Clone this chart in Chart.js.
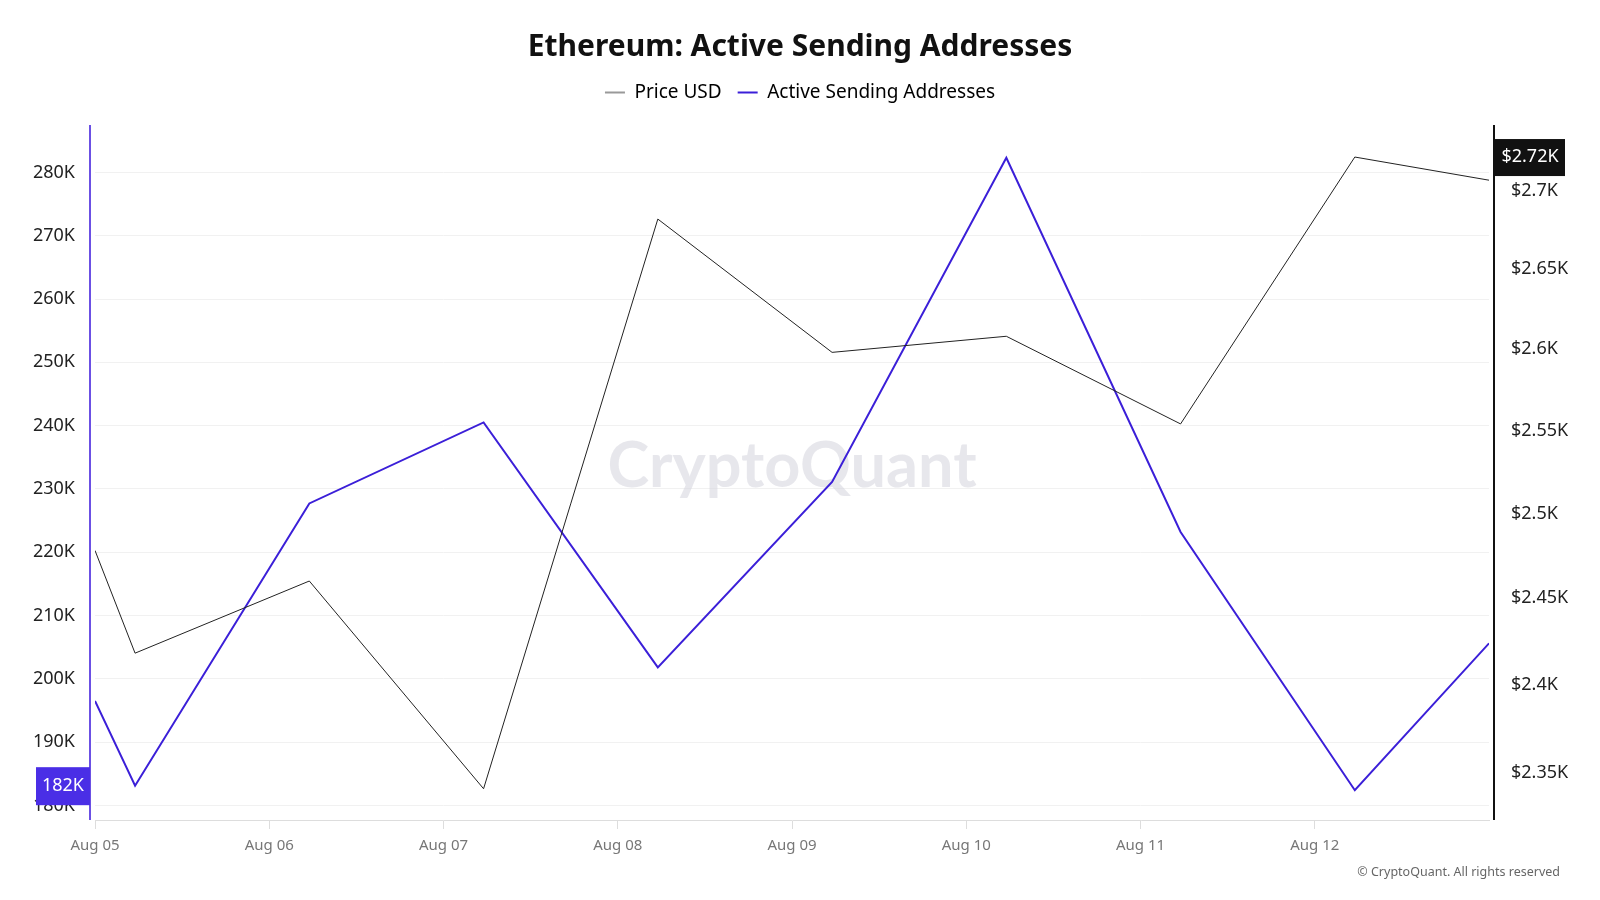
<!DOCTYPE html>
<html>
<head>
<meta charset="utf-8">
<title>Ethereum: Active Sending Addresses</title>
<script src="https://cdn.jsdelivr.net/npm/chart.js@4.4.1/dist/chart.umd.min.js"></script>
<style>
	body { margin: 0; background: #ffffff; }
	#wrap { width: 1600px; height: 900px; }
</style>
</head>
<body>
<div id="wrap"><canvas id="lineChart"></canvas></div>
<script>
///
///	Data (x = days after Aug 05 00:00)
///
var dayOffsets = [0, 0.23, 1.23, 2.23, 3.23, 4.23, 5.23, 6.23, 7.23, 8];
var activeSending = [196500, 183100, 227700, 240500, 201800, 231100, 282300, 223200, 182400, 205600];
var priceUsd = [2478, 2418, 2460, 2341, 2682, 2598, 2608, 2554, 2722, 2707];
var dayLabels = ["Aug 05", "Aug 06", "Aug 07", "Aug 08", "Aug 09", "Aug 10", "Aug 11", "Aug 12"];
var addressTicks = [180000, 190000, 200000, 210000, 220000, 230000, 240000, 250000, 260000, 270000, 280000];
var priceTicks = [2350, 2400, 2450, 2500, 2550, 2600, 2650, 2700];
var markerIndex = 8;	// the day whose values are flagged on both axes

var blue = "#3b1fd8";
var fontFamily = "'Noto Sans', 'Open Sans', sans-serif";

function points(values) {
	return values.map(function(v, i) { return { x: dayOffsets[i], y: v }; });
}

// Give the legend some room below it
const legendMargin = {
	id: 'legendMargin',
	beforeInit(chart) {
		const origFit = chart.legend.fit;
		chart.legend.fit = function fit() {
			origFit.bind(chart.legend)();
			this.height += 13;
		};
	}
};

// Watermark, axis lines, value flags, footer
const extras = {
	id: 'extras',
	beforeDatasetsDraw(chart) {
		const ctx = chart.ctx, a = chart.chartArea;
		ctx.save();
		ctx.font = "bold 63px Lato, sans-serif";
		ctx.fillStyle = "rgba(212,212,220,0.55)";
		ctx.textAlign = "center";
		ctx.textBaseline = "middle";
		ctx.fillText("CryptoQuant", (a.left + a.right) / 2, (a.top + a.bottom) / 2 - 6);
		ctx.restore();
	},
	afterDraw(chart) {
		const ctx = chart.ctx, a = chart.chartArea;
		const yl = chart.scales.y, yr = chart.scales.y1;
		ctx.save();

		// axis lines
		ctx.lineWidth = 2;
		ctx.strokeStyle = "#6b50e4";
		ctx.beginPath();
		ctx.moveTo(a.left - 5, a.top);
		ctx.lineTo(a.left - 5, a.bottom);
		ctx.stroke();
		ctx.strokeStyle = "#111111";
		ctx.beginPath();
		ctx.moveTo(a.right + 5, a.top);
		ctx.lineTo(a.right + 5, a.bottom);
		ctx.stroke();

		// value flags
		ctx.font = "18px " + fontFamily;
		ctx.textBaseline = "middle";
		ctx.textAlign = "center";
		var ly = yl.getPixelForValue(activeSending[markerIndex]) - 4;
		ctx.fillStyle = "#4a2ee6";
		ctx.fillRect(36, ly - 19, a.left - 5 - 36, 38);
		ctx.fillStyle = "#ffffff";
		ctx.fillText(Math.round(activeSending[markerIndex] / 1000) + "K", (36 + a.left - 5) / 2, ly);

		var ry = yr.getPixelForValue(priceUsd[markerIndex]);
		ctx.fillStyle = "#111111";
		ctx.fillRect(a.right + 6, ry - 18, 70, 37);
		ctx.fillStyle = "#ffffff";
		ctx.fillText("$" + (Math.round(priceUsd[markerIndex] / 10) / 100) + "K", a.right + 6 + 35, ry);

		// footer
		ctx.font = "12.5px " + fontFamily;
		ctx.fillStyle = "#666666";
		ctx.textAlign = "right";
		ctx.fillText("\u00A9 CryptoQuant. All rights reserved", 1560, 872);
		ctx.restore();
	}
};

new Chart(document.getElementById("lineChart"), {
	type: "line",
	data: {
		datasets: [{
			label: "Price USD",
			data: points(priceUsd),
			yAxisID: "y1",
			borderColor: "#222222",
			borderWidth: 1,
			pointRadius: 0,
			tension: 0
		},
		{
			label: "Active Sending Addresses",
			data: points(activeSending),
			yAxisID: "y",
			borderColor: blue,
			borderWidth: 2,
			pointRadius: 0,
			tension: 0
		}]
	},
	options: {
		responsive: true,
		maintainAspectRatio: false,
		animation: false,
		layout: { padding: 0 },
		plugins: {
			title: {
				display: true,
				text: "Ethereum: Active Sending Addresses",
				color: "#111111",
				font: { family: fontFamily, size: 30, weight: "bold" },
				padding: { top: 29, bottom: 2 }
			},
			legend: {
				display: true,
				labels: {
					color: "#333333",
					font: { family: fontFamily, size: 19 },
					usePointStyle: true,
					pointStyleWidth: 20,
					padding: 16,
					generateLabels: function() {
						return [
							{ text: "Price USD", strokeStyle: "#999999", fillStyle: "#999999", lineWidth: 2, pointStyle: "line", datasetIndex: 0 },
							{ text: "Active Sending Addresses", strokeStyle: blue, fillStyle: blue, lineWidth: 2, pointStyle: "line", datasetIndex: 1 }
						];
					}
				}
			},
			tooltip: { enabled: false }
		},
		scales: {
			x: {
				type: "linear",
				min: 0,
				max: 8,
				afterBuildTicks: function(scale) {
					scale.ticks = dayLabels.map(function(l, i) { return { value: i }; });
				},
				afterFit: function(scale) { scale.height = 80; },
				ticks: {
					color: "#777777",
					font: { family: fontFamily, size: 15 },
					padding: 8,
					maxRotation: 0,
					callback: function(v) { return dayLabels[v]; }
				},
				grid: { drawOnChartArea: false, drawTicks: true, tickLength: 9, color: "#dddddd" },
				border: { color: "#dddddd", width: 1 }
			},
			y: {
				position: "left",
				min: 177690,
				max: 287490,
				afterBuildTicks: function(scale) {
					scale.ticks = addressTicks.map(function(v) { return { value: v }; });
				},
				afterFit: function(scale) { scale.width = 95; },
				ticks: {
					color: "#222222",
					font: { family: fontFamily, size: 18 },
					padding: 20,
					callback: function(v) { return (v / 1000) + "K"; }
				},
				grid: { color: "#f1f1f1", drawTicks: false },
				border: { display: false }
			},
			y1: {
				type: "logarithmic",
				position: "right",
				min: 2323.6,
				max: 2742.9,
				afterBuildTicks: function(scale) {
					scale.ticks = priceTicks.map(function(v) { return { value: v }; });
				},
				afterFit: function(scale) { scale.width = 111; },
				ticks: {
					color: "#222222",
					font: { family: fontFamily, size: 18 },
					padding: 22,
					callback: function(v) { return "$" + (v / 1000) + "K"; }
				},
				grid: { display: false, drawTicks: false },
				border: { display: false }
			}
		}
	},
	plugins: [legendMargin, extras]
});
</script>
</body>
</html>
